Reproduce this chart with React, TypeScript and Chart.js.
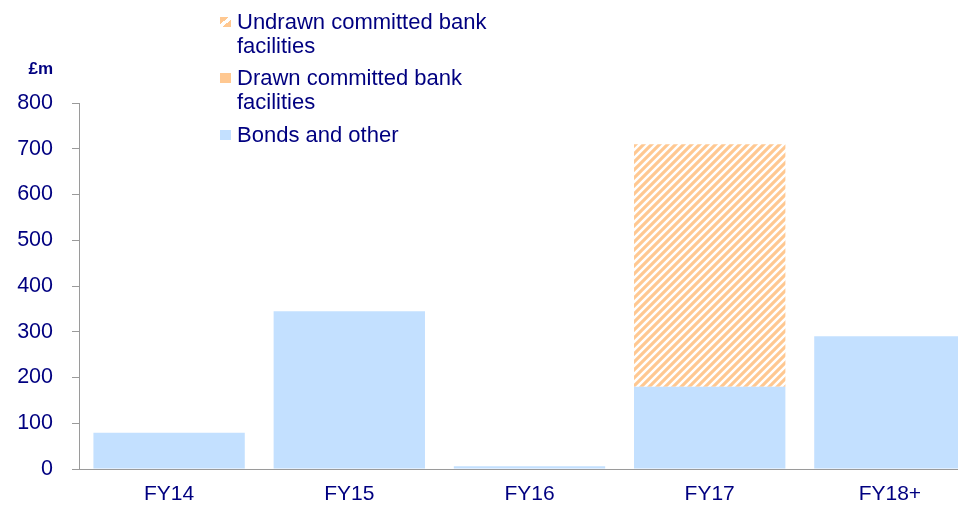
import React, { useEffect, useRef } from "react";
import { Chart, registerables } from "chart.js";

Chart.register(...registerables);

const categories = ["FY14", "FY15", "FY16", "FY17", "FY18+"];
const bondsAndOther = [79, 345, 6, 180, 290];
const drawnFacilities = [0, 0, 0, 0, 0];
const undrawnFacilities = [0, 0, 0, 530, 0];
const yMin = 0;
const yMax = 800;
const yStep = 100;

const NAVY = "#000080";
const BLUE = "#C3E0FF";
const ORANGE = "#FFC891";
const AXIS = "#9a9a9a";
const FONT = "'Liberation Sans', Arial, sans-serif";

function makeHatch(): CanvasPattern | string {
  const s = 8;
  const c = document.createElement("canvas");
  c.width = s;
  c.height = s;
  const ctx = c.getContext("2d");
  if (!ctx) return ORANGE;
  ctx.fillStyle = ORANGE;
  ctx.fillRect(0, 0, s, s);
  ctx.strokeStyle = "#ffffff";
  ctx.lineWidth = 2.5;
  ctx.beginPath();
  ctx.moveTo(-1, s + 1);
  ctx.lineTo(s + 1, -1);
  ctx.moveTo(-1, 1);
  ctx.lineTo(1, -1);
  ctx.moveTo(s - 1, s + 1);
  ctx.lineTo(s + 1, s - 1);
  ctx.stroke();
  const p = ctx.createPattern(c, "repeat");
  return p || ORANGE;
}

const hatchCss =
  "linear-gradient(to bottom right, #FFC891 0%, #FFC891 38%, #ffffff 38%, #ffffff 62%, #FFC891 62%, #FFC891 100%)";

export default function App() {
  const ref = useRef<HTMLCanvasElement | null>(null);

  useEffect(() => {
    if (!ref.current) return;
    const hatch = makeHatch();
    const chart = new Chart(ref.current, {
      type: "bar",
      data: {
        labels: categories,
        datasets: [
          {
            label: "Bonds and other",
            data: bondsAndOther,
            backgroundColor: BLUE,
            borderWidth: 0,
            barPercentage: 0.84,
            categoryPercentage: 1,
          },
          {
            label: "Drawn committed bank facilities",
            data: drawnFacilities,
            backgroundColor: ORANGE,
            borderWidth: 0,
            barPercentage: 0.84,
            categoryPercentage: 1,
          },
          {
            label: "Undrawn committed bank facilities",
            data: undrawnFacilities,
            backgroundColor: hatch as any,
            borderWidth: 0,
            barPercentage: 0.84,
            categoryPercentage: 1,
          },
        ],
      },
      options: {
        responsive: false,
        animation: false,
        devicePixelRatio: 1,
        layout: { padding: { top: 103, left: 0, right: 0, bottom: 0 } },
        plugins: {
          legend: { display: false },
          tooltip: { enabled: false },
        },
        scales: {
          x: {
            stacked: true,
            grid: { display: false, drawTicks: false },
            border: { display: true, color: AXIS, width: 1 },
            ticks: {
              color: NAVY,
              font: { family: FONT, size: 21 },
              padding: 13,
              maxRotation: 0,
            },
            afterFit: (scale: any) => {
              scale.height = 39;
            },
          },
          y: {
            stacked: true,
            min: yMin,
            max: yMax,
            grid: {
              drawOnChartArea: false,
              drawTicks: true,
              tickLength: 7,
              color: AXIS,
              lineWidth: 1,
            },
            border: { display: true, color: AXIS, width: 1 },
            ticks: {
              stepSize: yStep,
              color: NAVY,
              font: { family: FONT, size: 21.5 },
              padding: 19,
            },
            afterFit: (scale: any) => {
              scale.width = 79;
            },
          },
        },
      },
    });
    return () => chart.destroy();
  }, []);

  const legendItem = (top: number, swatch: string, lines: string[]) => (
    <div
      style={{
        position: "absolute",
        left: 220,
        top,
        fontFamily: FONT,
        fontSize: 22,
        lineHeight: "24px",
        color: NAVY,
      }}
    >
      <span
        style={{
          position: "absolute",
          left: 0,
          top: 7,
          width: 11,
          height: 10,
          background: swatch,
        }}
      />
      <div style={{ paddingLeft: 17, whiteSpace: "nowrap" }}>
        {lines.map((l, i) => (
          <div key={i}>{l}</div>
        ))}
      </div>
    </div>
  );

  return (
    <div
      style={{
        position: "fixed",
        left: 0,
        top: 0,
        width: 958,
        height: 508,
        overflow: "hidden",
        background: "#ffffff",
      }}
    >
      <canvas
        ref={ref}
        width={980}
        height={508}
        style={{ position: "absolute", left: 0, top: 0, width: 980, height: 508 }}
      />
      <div
        style={{
          position: "absolute",
          right: 958 - 53,
          top: 60,
          fontFamily: FONT,
          fontSize: 17,
          fontWeight: "bold",
          lineHeight: "17px",
          color: NAVY,
          whiteSpace: "nowrap",
        }}
      >
        £m
      </div>
      {legendItem(10, hatchCss, ["Undrawn committed bank", "facilities"])}
      {legendItem(66, ORANGE, ["Drawn committed bank", "facilities"])}
      {legendItem(123, BLUE, ["Bonds and other"])}
    </div>
  );
}
